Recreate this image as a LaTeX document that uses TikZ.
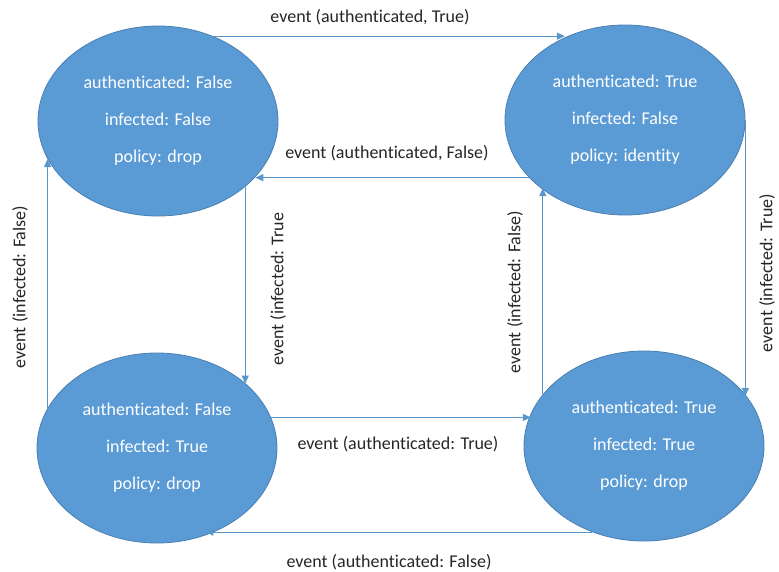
\documentclass[tikz,border=0pt]{standalone}
\usepackage{fontspec}
\setmainfont{Carlito}[Ligatures={NoCommon}]
\usetikzlibrary{arrows.meta,shapes.geometric}
\definecolor{stfill}{HTML}{5B9BD5}
\definecolor{stedge}{HTML}{4A7FB0}
\definecolor{arrcol}{HTML}{5A96CC}
\definecolor{lblcol}{HTML}{262626}
\begin{document}
\begin{tikzpicture}[x=1pt,y=-1pt,
  state/.style={ellipse, draw=stedge, line width=0.8pt, fill=stfill,
    minimum width=240pt, minimum height=190pt, inner sep=0pt,
    text=white, align=center, font=\fontsize{18}{37}\selectfont},
  arr/.style={draw=arrcol, line width=1.2pt, -{Triangle[length=8pt,width=7pt]}},
  lbl/.style={font=\fontsize{18}{22}\selectfont, text=lblcol, inner sep=0pt}]
\useasboundingbox (0,0) rectangle (779,571);
\fill[white] (0,0) rectangle (779,571);

\node[state] (tl) at (158,121) {authenticated: False\\infected: False\\policy: drop};
\node[state] (tr) at (625,120) {authenticated: True\\infected: False\\policy: identity};
\node[state] (bl) at (157,448) {authenticated: False\\infected: True\\policy: drop};
\node[state] (br) at (644,446) {authenticated: True\\infected: True\\policy: drop};

% top horizontal arrows
\draw[arr] (tl.57) -- (tl.57 -| tr.126);
\draw[arr] (tr.211) -- (tr.211 -| tl.330);
% left verticals
\draw[arr] (tl.323.4) -- (tl.323.4 |- bl.36.3);
\draw[arr] (bl.160.9) -- (bl.160.9 |- tl.199);
% bottom horizontals
\draw[arr] (bl.15.3) -- (bl.15.3 -| br.164.2);
\draw[arr] (br.239.3) -- (br.239.3 -| bl.299);
% right verticals
\draw[arr] (br.153.1) -- (br.153.1 |- tr.219.9);
\draw[arr] (tr.east) -- (tr.east |- br.26.9);

% labels
\node[lbl] (l1) at (370,17) {event (authenticated, True)};
\node[lbl] (l2) at (387,153) {event (authenticated, False)};
\node[lbl, rotate=90] (l3) at (278,289) {event (infected: True};
\node[lbl, rotate=90] (l4) at (20,287) {event (infected: False)};
\node[lbl] (l5) at (398,444) {event (authenticated: True)};
\node[lbl] (l6) at (389,562) {event (authenticated: False)};
\node[lbl, rotate=90] (l7) at (515,292) {event (infected: False)};
\node[lbl, rotate=90] (l8) at (767,273) {event (infected: True)};
\end{tikzpicture}
\end{document}
